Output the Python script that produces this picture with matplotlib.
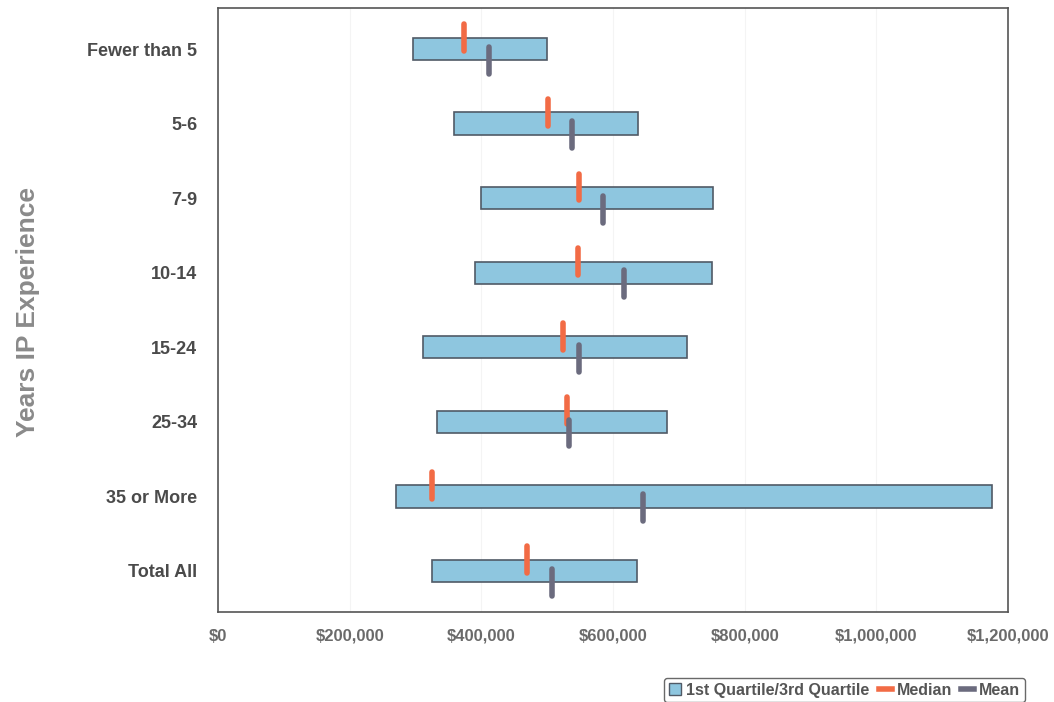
import matplotlib.pyplot as plt
from matplotlib.lines import Line2D
from matplotlib.patches import Patch
from matplotlib.ticker import FuncFormatter

plt.rcParams['font.family'] = ['Liberation Sans', 'DejaVu Sans']

categories = ["Fewer than 5", "5-6", "7-9", "10-14", "15-24", "25-34", "35 or More", "Total All"]
q1 = [296000, 358000, 400000, 391000, 311000, 332000, 270000, 325000]
q3 = [500000, 638000, 752000, 750000, 712000, 682000, 1175000, 636000]
median = [374000, 501000, 548000, 547000, 524000, 530000, 325000, 469000]
mean = [412000, 538000, 585000, 617000, 549000, 533000, 646000, 507000]

bar_color = "#8ec6df"
med_color = "#f26b45"
mean_color = "#6b6b7e"

fig = plt.figure(figsize=(10.54, 7.02), dpi=100)
ax = fig.add_axes([0.2068, 0.1282, 0.7496, 0.8604])

y = list(range(len(categories)))
widths = [b - a for a, b in zip(q1, q3)]
ax.barh(y, widths, left=q1, height=0.3, color=bar_color, edgecolor="#505a66", linewidth=1.2)

# median tick sits on the top edge of each bar, mean on the bottom edge
for i in y:
    ax.plot([median[i], median[i]], [i - 0.33, i + 0.03], color=med_color, lw=4, solid_capstyle="round")
    ax.plot([mean[i], mean[i]], [i - 0.03, i + 0.33], color=mean_color, lw=4, solid_capstyle="round")

ax.set_xlim(0, 1200000)
ax.set_ylim(len(categories) - 0.45, -0.55)
ax.set_xticks(range(0, 1200001, 200000))
ax.xaxis.set_major_formatter(FuncFormatter(lambda v, p: "${:,.0f}".format(v)))
ax.set_yticks(y)
ax.set_yticklabels(categories)
ax.tick_params(axis="y", length=0, pad=15, labelsize=13, labelcolor="#4a4a4a")
ax.tick_params(axis="x", length=0, pad=12, labelsize=12, labelcolor="#6a6a6a")
for lab in ax.get_xticklabels() + ax.get_yticklabels():
    lab.set_fontweight("bold")
for s in ax.spines.values():
    s.set_color("#555555")
    s.set_linewidth(1.2)
ax.grid(axis="x", color="#f4f4f4", lw=0.8)
ax.set_axisbelow(True)

fig.text(0.027, 0.556, "Years IP Experience", rotation=90, ha="center", va="center",
         fontsize=19, fontweight="bold", color="#8a8a8a")

handles = [Patch(facecolor=bar_color, edgecolor="#505a66"),
           Line2D([], [], color=med_color, lw=4),
           Line2D([], [], color=mean_color, lw=4)]
leg = fig.legend(handles, ["1st Quartile/3rd Quartile", "Median", "Mean"], ncol=3,
                 loc="lower right", bbox_to_anchor=(0.98, -0.012), fontsize=11.5,
                 frameon=True, handlelength=0.8, handletextpad=0.3, columnspacing=0.6,
                 borderpad=0.3, fancybox=True)
leg.get_frame().set_edgecolor("#444444")
for t in leg.get_texts():
    t.set_fontweight("bold")
    t.set_color("#555555")

fig.savefig("out.png", dpi=100)
